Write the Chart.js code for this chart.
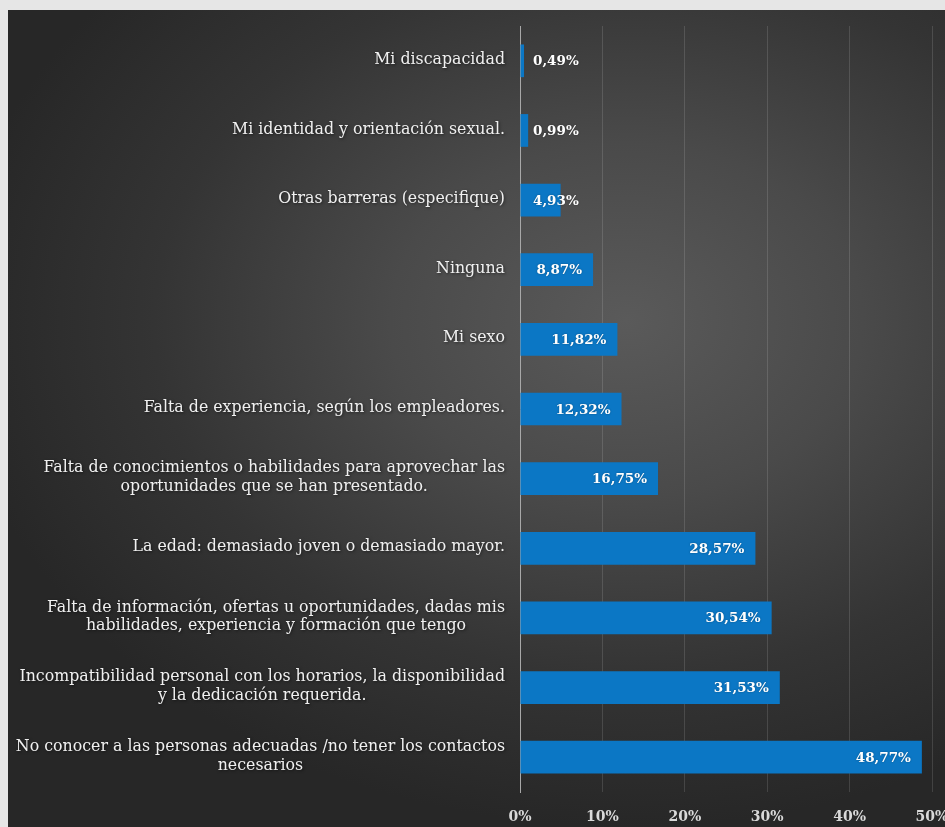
<!DOCTYPE html>
<html><head><meta charset="utf-8">
<script src="https://cdn.jsdelivr.net/npm/chart.js@4.4.1/dist/chart.umd.min.js"></script>
<style>
html,body{margin:0;padding:0;background:#e6e6e6;width:945px;height:827px;overflow:hidden}
#wrap{position:absolute;left:8px;top:10px;width:937px;height:817px;overflow:hidden;
background:radial-gradient(ellipse 72% 62% at 66% 38%, #5a5a5a 0%, #4a4a4a 35%, #343434 70%, #272727 100%);}
#c{position:absolute;left:0;top:0;}
</style></head><body>
<div id="wrap"><canvas id="c" width="960" height="817" style="width:960px;height:817px"></canvas></div>
<script>
const categories = [
  ["Mi discapacidad"],
  ["Mi identidad y orientación sexual."],
  ["Otras barreras (especifique)"],
  ["Ninguna"],
  ["Mi sexo"],
  ["Falta de experiencia, según los empleadores."],
  ["Falta de conocimientos o habilidades para aprovechar las", "oportunidades que se han presentado."],
  ["La edad: demasiado joven o demasiado mayor."],
  ["Falta de información, ofertas u oportunidades, dadas mis", "habilidades, experiencia y formación que tengo"],
  ["Incompatibilidad personal con los horarios, la disponibilidad", "y la dedicación requerida."],
  ["No conocer a las personas adecuadas /no tener los contactos", "necesarios"]
];
const values = [0.49, 0.99, 4.93, 8.87, 11.82, 12.32, 16.75, 28.57, 30.54, 31.53, 48.77];
const tickValues = [0, 10, 20, 30, 40, 50];

const SERIF = '"DejaVu Serif", "Liberation Serif", serif';
const fmt = v => v.toFixed(2).replace('.', ',') + '%';

const catLabelPlugin = {
  id: 'catLabels',
  afterDraw(chart) {
    const ctx = chart.ctx, ys = chart.scales.y;
    ctx.save();
    ctx.font = '15.8px ' + SERIF;
    ctx.fillStyle = '#f0f0f0';
    ctx.textAlign = 'center';
    ctx.textBaseline = 'middle';
    ctx.shadowColor = 'rgba(0,0,0,0.55)';
    ctx.shadowBlur = 3;
    ctx.shadowOffsetX = 1; ctx.shadowOffsetY = 1;
    const right = ys.right - 15;
    const lh = 18.5;
    categories.forEach((lines, i) => {
      const y = ys.getPixelForValue(i) - 1;
      const w = Math.max(...lines.map(l => ctx.measureText(l).width));
      const cx = right - w / 2;
      const y0 = y - (lines.length - 1) * lh / 2;
      lines.forEach((l, k) => ctx.fillText(l, cx, y0 + k * lh));
    });
    ctx.restore();
  }
};

const valueLabelPlugin = {
  id: 'valueLabels',
  afterDatasetsDraw(chart) {
    const ctx = chart.ctx, xs = chart.scales.x;
    const base = xs.getPixelForValue(0);
    const meta = chart.getDatasetMeta(0);
    ctx.save();
    ctx.font = 'bold 13.5px ' + SERIF;
    ctx.fillStyle = '#ffffff';
    ctx.textBaseline = 'middle';
    ctx.textAlign = 'left';
    ctx.shadowColor = 'rgba(0,0,0,0.35)';
    ctx.shadowBlur = 2;
    meta.data.forEach((bar, i) => {
      const t = fmt(values[i]);
      const w = ctx.measureText(t).width;
      let left = bar.x - 11 - w;
      if (left < base + 13) left = base + 13;
      ctx.fillText(t, left, bar.y + 1);
    });
    ctx.restore();
  }
};

new Chart(document.getElementById('c'), {
  type: 'bar',
  data: {
    labels: categories,
    datasets: [{
      data: values,
      backgroundColor: '#0b77c5',
      borderWidth: 0,
      barPercentage: 0.47,
      categoryPercentage: 1.0
    }]
  },
  options: {
    indexAxis: 'y',
    responsive: false,
    animation: false,
    devicePixelRatio: 1,
    layout: { padding: { left: 0, right: 36, top: 16, bottom: 0 } },
    plugins: { legend: { display: false }, tooltip: { enabled: false } },
    scales: {
      x: {
        min: 0, max: 50,
        afterBuildTicks(scale) { scale.ticks = tickValues.map(v => ({ value: v })); },
        afterFit(scale) { scale.height = 35; },
        ticks: {
          callback: v => v + '%',
          color: '#d9d9d9',
          font: { family: SERIF, size: 14, weight: 'bold' },
          padding: 17,
          maxRotation: 0
        },
        grid: { color: 'rgba(255,255,255,0.13)', drawTicks: false, lineWidth: 1 },
        border: { display: false }
      },
      y: {
        ticks: { display: false },
        afterFit(scale) { scale.width = 512; },
        grid: { display: false },
        border: { display: true, color: '#a8a8a8', width: 1 }
      }
    }
  },
  plugins: [catLabelPlugin, valueLabelPlugin]
});
</script>
</body></html>
